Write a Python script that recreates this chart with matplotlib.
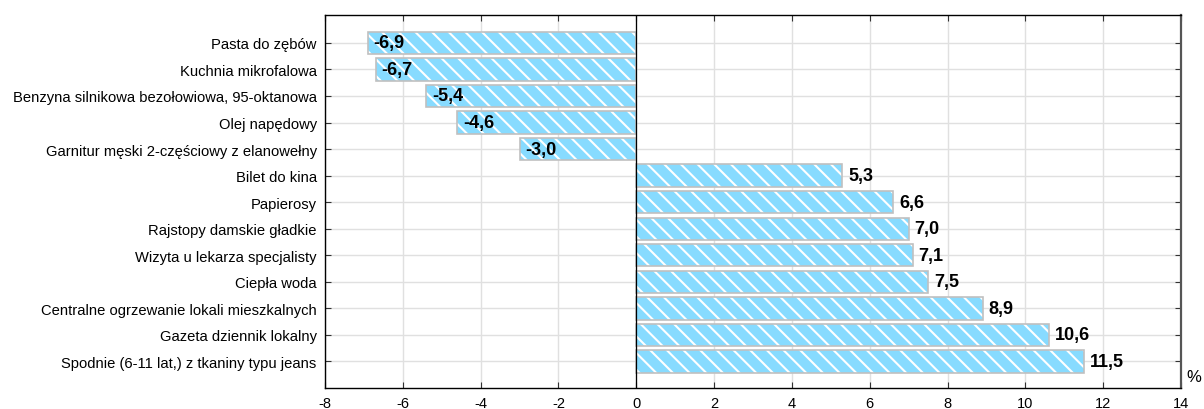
import matplotlib
matplotlib.use("Agg")
import matplotlib.pyplot as plt

categories = [
    "Pasta do zębów",
    "Kuchnia mikrofalowa",
    "Benzyna silnikowa bezołowiowa, 95-oktanowa",
    "Olej napędowy",
    "Garnitur męski 2-częściowy z elanowełny",
    "Bilet do kina",
    "Papierosy",
    "Rajstopy damskie gładkie",
    "Wizyta u lekarza specjalisty",
    "Ciepła woda",
    "Centralne ogrzewanie lokali mieszkalnych",
    "Gazeta dziennik lokalny",
    "Spodnie (6-11 lat,) z tkaniny typu jeans",
]
values = [-6.9, -6.7, -5.4, -4.6, -3.0, 5.3, 6.6, 7.0, 7.1, 7.5, 8.9, 10.6, 11.5]
xticks = [-8, -6, -4, -2, 0, 2, 4, 6, 8, 10, 12, 14]

plt.rcParams["font.family"] = ["Liberation Sans", "DejaVu Sans"]
plt.rcParams["hatch.linewidth"] = 1.5

fig = plt.figure(figsize=(12.04, 4.10), dpi=100)
ax = fig.add_axes([325 / 1204, 21 / 410, 856 / 1204, 373 / 410])

y = list(range(len(categories)))
ax.barh(y, values, height=0.84, color="#87DBFF", hatch="\\\\", edgecolor="white",
        linewidth=0, zorder=3)
ax.barh(y, values, height=0.84, facecolor="none", edgecolor="#c0c0c0",
        linewidth=1.2, zorder=4)

for yi, v in zip(y, values):
    lbl = f"{v:.1f}".replace(".", ",")
    ax.text(v + 0.15, yi, lbl, ha="left", va="center", fontsize=13,
            fontweight="bold", color="black", zorder=5)

ax.axvline(0, color="black", linewidth=0.9, zorder=4)

ax.set_xlim(-8, 14)
ax.set_ylim(13.0, -1.05)
ax.set_xticks(xticks)
ax.set_xticklabels([str(t) for t in xticks])
ax.set_yticks(y)
ax.set_yticklabels(categories, fontsize=10.6)
ax.tick_params(axis="x", labelsize=10.5)
ax.tick_params(axis="both", direction="in", length=4, color="#333333",
               top=True, right=True)
ax.tick_params(axis="x", pad=6)
ax.tick_params(axis="y", pad=6)

ax.grid(True, color="#e0e0e0", linewidth=1.0, zorder=0)
ax.set_axisbelow(True)

for side in ["left", "bottom", "top"]:
    ax.spines[side].set_color("black")
    ax.spines[side].set_linewidth(1.0)
ax.spines["right"].set_color("#555555")
ax.spines["right"].set_linewidth(1.6)

ax.text(1.006, 0.03, "%", transform=ax.transAxes, fontsize=12, ha="left", va="center")

fig.savefig("out.png", dpi=100)
